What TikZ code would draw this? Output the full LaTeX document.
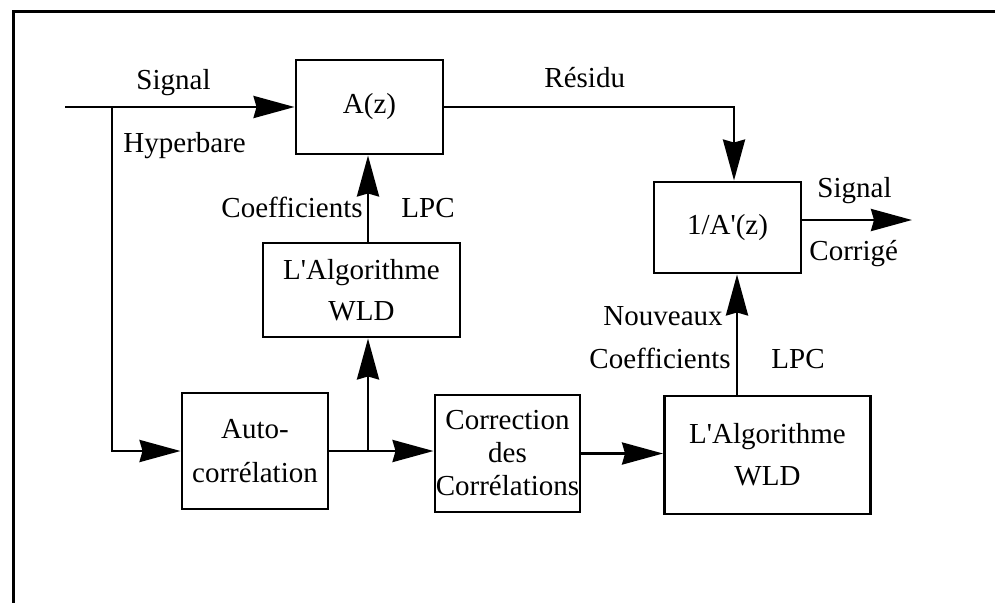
\documentclass[tikz,border=0pt]{standalone}
\usepackage{fontspec}
\setmainfont{Liberation Serif}
\usetikzlibrary{arrows.meta}
\begin{document}
\begin{tikzpicture}[x=1pt,y=-1pt,
  line width=2.9pt,
  every node/.style={font=\fontsize{29}{34}\selectfont, inner sep=0pt},
  blk/.style={draw, align=center, line width=2.9pt},
  lbl/.style={anchor=base west},
  arr/.style={-{Stealth[length=41pt,width=22pt,inset=3pt]}}]
\useasboundingbox (0,0) rectangle (995,603);
% frame (top and left edges)
\draw[line width=3pt] (995,11) -- (13,11) -- (13,603);

% blocks
\node[blk, minimum width=147pt, minimum height=94pt] (A) at (369.5,107) {A(z)};
\node[blk, minimum width=147pt, minimum height=91pt] (inv) at (727.5,227.5) {1/A\textquotesingle(z)};
\node[blk, minimum width=197pt, minimum height=94pt,
      font=\fontsize{29}{41}\selectfont] (wldA) at (361.5,290) {L\textquotesingle Algorithme\\WLD};
\node[blk, minimum width=146pt, minimum height=116pt,
      font=\fontsize{29}{44}\selectfont] (auto) at (255,451) {Auto-\\corrélation};
\node[blk, minimum width=145pt, minimum height=117pt,
      font=\fontsize{29}{33}\selectfont] (cor) at (507.5,453.5) {Correction\\des\\Corrélations};
\node[blk, minimum width=206pt, minimum height=118pt,
      font=\fontsize{29}{42}\selectfont] (wldB) at (767.5,455) {L\textquotesingle Algorithme\\WLD};

% routing points
\coordinate (in) at (65,107);
\coordinate (br) at (112,107);
\coordinate (r1) at (734,107);
\coordinate (j) at (368,452);
\coordinate (k) at (737,396);
\coordinate (out) at (912,220);

% connectors
\draw[arr] (in) -- (A.west);
\draw[arr] (br) |- (auto.west);
\draw[arr] (A.east) -- (r1) -- (r1 |- inv.north);
\draw (auto.east) -- (auto.east -| j);
\draw[arr] (auto.east -| j) -- (auto.east -| cor.west);
\draw[arr] (auto.east -| j) -- (j |- wldA.south);
\draw[arr] (wldA.north -| j) -- (j |- A.south);
\draw[arr] (cor.east) -- (cor.east -| wldB.west);
\draw[arr] (wldB.north -| k) -- (k |- inv.south);
\draw[arr] (inv.east |- out) -- (out);

% labels
\node[lbl] (lsig) at (135,89) {Signal};
\node[lbl] (lhyp) at (122,152) {Hyperbare};
\node[lbl] (lres) at (543,87) {Résidu};
\node[lbl] (lcoA) at (220,217) {Coefficients};
\node[lbl] (llpcA) at (400,217) {LPC};
\node[lbl] (lnouv) at (602,325) {Nouveaux};
\node[lbl] (lcoB) at (588,368) {Coefficients};
\node[lbl] (llpcB) at (770,368) {LPC};
\node[lbl] (lsigB) at (816,197) {Signal};
\node[lbl] (lcorr) at (808,260) {Corrigé};
\end{tikzpicture}
\end{document}
